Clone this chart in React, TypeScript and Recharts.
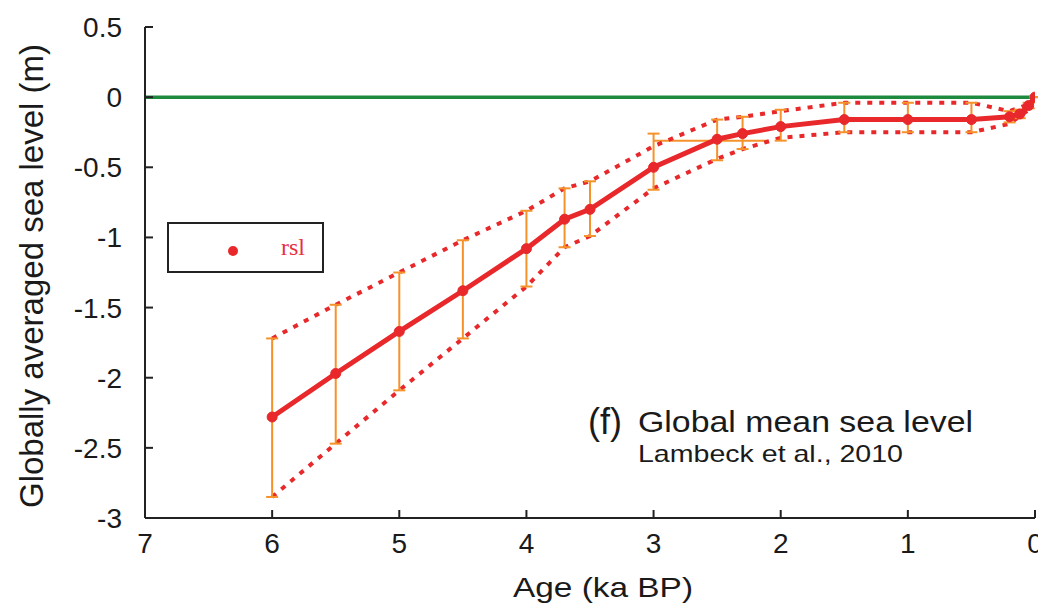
import { ComposedChart, Line, XAxis, YAxis, ReferenceLine, ErrorBar } from 'recharts';

// age (ka BP) of each sample and the mean sea level reading
const ages = [6, 5.5, 5, 4.5, 4, 3.7, 3.5, 3, 2.5, 2.3, 2, 1.5, 1, 0.5, 0.2, 0.12, 0.05, 0];
const rsl = [-2.28, -1.97, -1.67, -1.38, -1.08, -0.87, -0.8, -0.5, -0.3, -0.26, -0.21, -0.16, -0.16, -0.16, -0.14, -0.12, -0.06, 0];
const errTop = [-1.72, -1.48, -1.25, -1.02, -0.81, -0.65, -0.6, -0.26, -0.16, -0.14, -0.09, -0.04, -0.04, -0.04, -0.1, -0.09, -0.04, 0];
const errBottom = [-2.85, -2.47, -2.09, -1.72, -1.35, -1.07, -0.99, -0.66, -0.45, -0.37, -0.31, -0.25, -0.25, -0.25, -0.18, -0.15, -0.08, 0];

// dotted envelope
const boundAges = [6, 5.5, 5, 4.5, 4, 3.7, 3.5, 3, 2.5, 2.3, 2, 1.5, 1, 0.5, 0.2, 0.05, 0];
const upper = [-1.72, -1.48, -1.25, -1.02, -0.81, -0.65, -0.6, -0.35, -0.16, -0.14, -0.1, -0.04, -0.04, -0.04, -0.1, -0.05, 0];
const lower = [-2.85, -2.47, -2.09, -1.72, -1.35, -1.07, -0.99, -0.65, -0.44, -0.37, -0.29, -0.25, -0.25, -0.25, -0.19, -0.09, 0];

// horizontal age error of the 2.5 ka sample
const xErrAges = [3.0, 2.1];
const xErrLevel = [-0.31, -0.31];

const xTicks = [0, 1, 2, 3, 4, 5, 6, 7];
const yTicks = [-3, -2.5, -2, -1.5, -1, -0.5, 0, 0.5];

const RED = '#e8282a';
const ORANGE = '#f5922a';
const FONT = '"Liberation Sans", Arial, Helvetica, sans-serif';

const points = ages.map((a, i) => ({
  age: a,
  rsl: rsl[i],
  err: [rsl[i] - errBottom[i], errTop[i] - rsl[i]],
}));
const upperData = boundAges.map((a, i) => ({ age: a, v: upper[i] }));
const lowerData = boundAges.map((a, i) => ({ age: a, v: lower[i] }));
const xErrData = xErrAges.map((a, i) => ({ age: a, v: xErrLevel[i] }));

const tickStyle = { fontSize: 28, fill: '#1a1a1a', fontFamily: FONT };

export default function App() {
  return (
    <div style={{ position: 'absolute', left: 0, top: 0, width: 1038, height: 606, background: '#fff' }}>
      <ComposedChart width={1038} height={606} margin={{ top: 27, right: 3, left: 0, bottom: 0 }}>
        <XAxis
          xAxisId="b"
          dataKey="age"
          type="number"
          domain={[0, 7]}
          ticks={xTicks}
          interval={0}
          reversed
          allowDataOverflow
          height={88}
          tickSize={-8}
          tickMargin={23}
          tick={tickStyle}
          stroke="#222"
          strokeWidth={2}
        />
        <XAxis
          xAxisId="t"
          orientation="top"
          dataKey="age"
          type="number"
          domain={[0, 7]}
          ticks={xTicks}
          interval={0}
          reversed
          height={0}
          tickSize={-8}
          tickFormatter={() => ''}
          stroke="#222"
          strokeWidth={2}
        />
        <YAxis
          yAxisId="l"
          type="number"
          domain={[-3, 0.5]}
          ticks={yTicks}
          interval={0}
          allowDataOverflow
          width={145}
          tickSize={-8}
          tickMargin={31}
          tick={tickStyle}
          stroke="#222"
          strokeWidth={2}
        />
        <YAxis
          yAxisId="r"
          orientation="right"
          type="number"
          domain={[-3, 0.5]}
          ticks={yTicks}
          interval={0}
          width={0}
          tickSize={-8}
          tickFormatter={() => ''}
          stroke="#222"
          strokeWidth={2}
        />
        <ReferenceLine xAxisId="b" yAxisId="l" y={0} stroke="#1e8a3e" strokeWidth={3.5} />
        <Line
          xAxisId="b"
          yAxisId="l"
          data={xErrData}
          dataKey="v"
          stroke={ORANGE}
          strokeWidth={2}
          dot={false}
          isAnimationActive={false}
        />
        <Line
          xAxisId="b"
          yAxisId="l"
          data={upperData}
          dataKey="v"
          stroke={RED}
          strokeWidth={4}
          strokeDasharray="5 7"
          dot={false}
          isAnimationActive={false}
        />
        <Line
          xAxisId="b"
          yAxisId="l"
          data={lowerData}
          dataKey="v"
          stroke={RED}
          strokeWidth={4}
          strokeDasharray="5 7"
          dot={false}
          isAnimationActive={false}
        />
        <Line
          xAxisId="b"
          yAxisId="l"
          data={points}
          dataKey="rsl"
          stroke={RED}
          strokeWidth={5}
          dot={{ r: 5, fill: RED, stroke: RED, strokeWidth: 1 }}
          isAnimationActive={false}
        >
          <ErrorBar dataKey="err" direction="y" width={6} stroke={ORANGE} strokeWidth={2} isAnimationActive={false} />
        </Line>
      </ComposedChart>

      <svg
        width={1038}
        height={606}
        style={{ position: 'absolute', left: 0, top: 0, pointerEvents: 'none' }}
      >
        <text
          transform="translate(43,276) rotate(-90)"
          textAnchor="middle"
          fontSize={33}
          fontFamily={FONT}
          fill="#1a1a1a"
        >
          Globally averaged sea level (m)
        </text>
        <text x={513} y={597} fontSize={28} fontFamily={FONT} fill="#1a1a1a" textLength={180} lengthAdjust="spacingAndGlyphs">
          Age (ka BP)
        </text>
        <text x={588} y={434} fontSize={36} fontFamily={FONT} fill="#1a1a1a">
          (f)
        </text>
        <text x={638} y={432} fontSize={30} fontFamily={FONT} fill="#1a1a1a" textLength={335} lengthAdjust="spacingAndGlyphs">
          Global mean sea level
        </text>
        <text x={638} y={462} fontSize={24} fontFamily={FONT} fill="#1a1a1a" textLength={265} lengthAdjust="spacingAndGlyphs">
          Lambeck et al., 2010
        </text>
      </svg>

      <div
        style={{
          position: 'absolute',
          left: 167,
          top: 222,
          width: 153,
          height: 47,
          border: '2px solid #222',
          background: '#fff',
        }}
      >
        <div
          style={{
            position: 'absolute',
            left: 59,
            top: 22,
            width: 10,
            height: 10,
            borderRadius: '50%',
            background: RED,
          }}
        />
        <span
          style={{
            position: 'absolute',
            left: 112,
            top: 10,
            fontFamily: '"Liberation Serif", "Times New Roman", serif',
            fontSize: 24,
            color: '#e8303f',
          }}
        >
          rsl
        </span>
      </div>
    </div>
  );
}
